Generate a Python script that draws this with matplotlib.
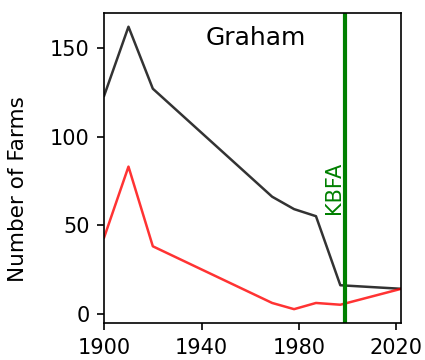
import matplotlib
matplotlib.use("Agg")
import matplotlib.pyplot as plt

# Graham county farm counts
years = [1900, 1910, 1920, 1969, 1978, 1987, 1997, 2022]
all_farms = [123, 162, 127, 66, 59, 55, 16, 14]
black_farms = [43, 83, 38, 6, 2.5, 6, 5, 14]
kbfa_year = 1999

fig = plt.figure(figsize=(425 / 150, 360 / 150), dpi=150)
ax = fig.add_axes([0.245, 0.102, 0.699, 0.863])

ax.plot(years, all_farms, color="black", alpha=0.8, linewidth=1.2)
ax.plot(years, black_farms, color="red", alpha=0.8, linewidth=1.2)
ax.axvline(kbfa_year, color="green", linewidth=2)
ax.text(kbfa_year - 0.6, 56, "KBFA", color="green", rotation=90,
        ha="right", va="bottom", fontsize=10)

ax.text(0.51, 0.896, "Graham", transform=ax.transAxes, ha="center",
        va="baseline", fontsize=12)

ax.set_xlim(min(years), max(years))
ax.set_xticks([1900, 1940, 1980, 2020])
ax.set_yticks([0, 50, 100, 150])
ax.set_ylabel("Number of Farms", fontsize=10.3)
ax.yaxis.set_label_coords(-0.255, 0.432)

fig.savefig("out.png", dpi=150)
